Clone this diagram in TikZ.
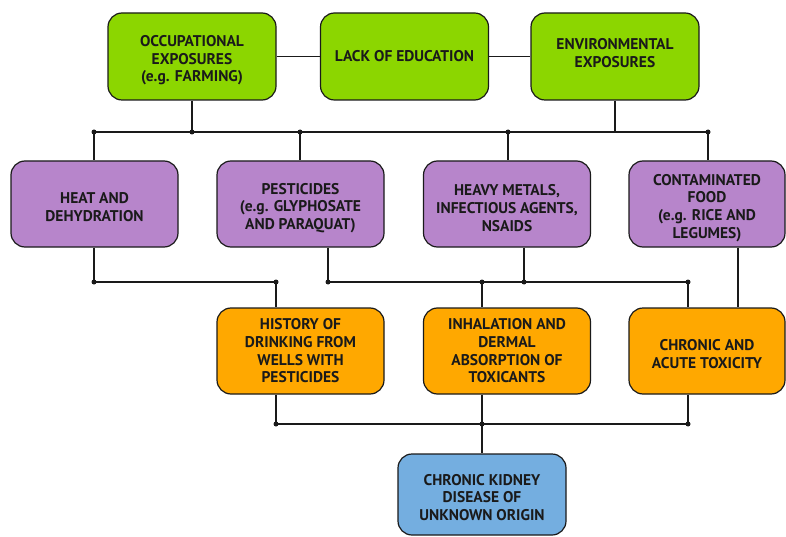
\documentclass[tikz,border=0pt]{standalone}
\usepackage{fontspec}
\setmainfont{PT Sans}
\usetikzlibrary{calc}
\definecolor{cgreen}{HTML}{8CD600}
\definecolor{cpurple}{HTML}{B785CB}
\definecolor{corange}{HTML}{FFA800}
\definecolor{cblue}{HTML}{74AEE0}
\definecolor{cline}{HTML}{1A1A1A}
\newcommand{\tpush}[1]{\rule{0pt}{#1}}
\tikzset{
  box/.style={draw=cline, line width=1.2pt, rounded corners=14pt, align=center,
    font=\bfseries\fontsize{15.5}{17.7}\selectfont, text=cline, inner sep=0pt},
  gbox/.style={box, fill=cgreen, minimum width=168pt, minimum height=87pt},
  pbox/.style={box, fill=cpurple, minimum width=167pt, minimum height=86pt},
  obox/.style={box, fill=corange, minimum width=167pt, minimum height=86pt},
  link/.style={draw=cline, line width=1.2pt},
  jdot/.style={circle, fill=cline, inner sep=0pt, minimum size=5pt},
}
\begin{document}
\begin{tikzpicture}[x=1pt,y=-1pt]
\useasboundingbox (0,0) rectangle (786,537);
% top row
\node[gbox] (occ) at (192,56.5) {\tpush{19pt}OCCUPATIONAL\\EXPOSURES\\(e.g. FARMING)};
\node[gbox] (lack) at (404.5,56.5) {LACK OF EDUCATION};
\node[gbox] (env) at (615,56.5) {ENVIRONMENTAL\\EXPOSURES\rule[-7pt]{0pt}{7pt}};
% second row
\node[pbox] (heat) at (94.5,204) {\tpush{17pt}HEAT AND\\DEHYDRATION};
\node[pbox] (pest) at (300.5,204) {\tpush{19pt}PESTICIDES\\(e.g. GLYPHOSATE\\AND PARAQUAT)};
\node[pbox] (heavy) at (507,204) {\tpush{19pt}HEAVY METALS,\\INFECTIOUS AGENTS,\\NSAIDS};
\node[pbox, minimum width=156pt] (food) at (707,204) {\tpush{19pt}CONTAMINATED\\FOOD\\(e.g. RICE AND\\LEGUMES)};
% third row
\node[obox] (hist) at (300.5,351) {HISTORY OF\\DRINKING FROM\\WELLS WITH\\PESTICIDES};
\node[obox] (inh) at (507,351) {INHALATION AND\\DERMAL\\ABSORPTION OF\\TOXICANTS};
\node[obox, minimum width=156pt] (chr) at (707,351) {\tpush{17pt}CHRONIC AND\\ACUTE TOXICITY};
% bottom
\node[box, fill=cblue, minimum width=168pt, minimum height=81pt] (ckd) at (482,494.5) {\tpush{17pt}CHRONIC KIDNEY\\DISEASE OF\\UNKNOWN ORIGIN};

% top connectors
\draw[link] (occ.east) -- (lack.west);
\draw[link] (lack.east) -- (env.west);
\coordinate (t1) at (94,132);
\coordinate (t2) at (192,132);
\coordinate (t3) at (300,132);
\coordinate (t4) at (508,132);
\coordinate (t5) at (615,132);
\coordinate (t6) at (708,132);
\draw[link] (t1) -- (t6);
\draw[link] (occ.south) -- (t2);
\draw[link] (env.south) -- (t5);
\draw[link] (t1) -- (t1 |- heat.north);
\draw[link] (t3) -- (t3 |- pest.north);
\draw[link] (t4) -- (t4 |- heavy.north);
\draw[link] (t6) -- (t6 |- food.north);
\foreach \c in {t1,t2,t3,t4,t6} \node[jdot] at (\c) {};

% middle connectors
\coordinate (m1) at (94,282);
\coordinate (m2) at (276,282);
\coordinate (m3) at (328,282);
\coordinate (m4) at (482,282);
\coordinate (m5) at (524,282);
\coordinate (m6) at (688,282);
\coordinate (fx) at (738,282);
\draw[link] (m1) -- (m2);
\draw[link] (m3) -- (m6);
\draw[link] (heat.south -| m1) -- (m1);
\draw[link] (pest.south -| m3) -- (m3);
\draw[link] (heavy.south -| m5) -- (m5);
\draw[link] (m2) -- (m2 |- hist.north);
\draw[link] (m4) -- (m4 |- inh.north);
\draw[link] (m6) -- (m6 |- chr.north);
\draw[link] (food.south -| fx) -- (chr.north -| fx);
\foreach \c in {m1,m2,m3,m4,m5,m6} \node[jdot] at (\c) {};

% bottom connectors
\coordinate (b1) at (276,424);
\coordinate (b2) at (482,424);
\coordinate (b3) at (688,424);
\draw[link] (b1) -- (b3);
\draw[link] (hist.south -| b1) -- (b1);
\draw[link] (inh.south -| b2) -- (b2);
\draw[link] (chr.south -| b3) -- (b3);
\draw[link] (b2) -- (ckd.north);
\foreach \c in {b1,b2,b3} \node[jdot] at (\c) {};
\end{tikzpicture}
\end{document}
